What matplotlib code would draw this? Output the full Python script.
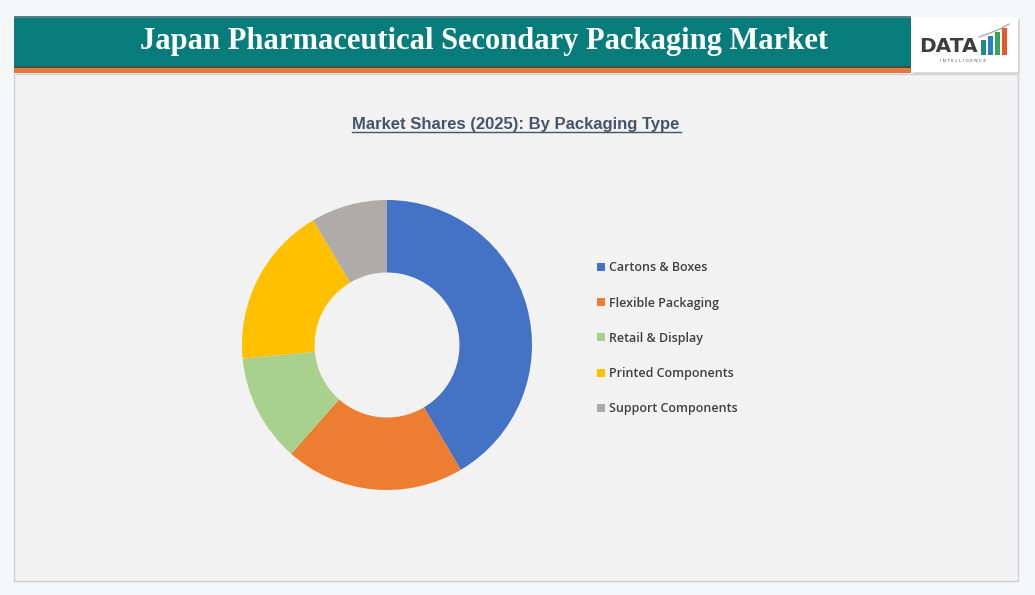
import matplotlib.pyplot as plt
from matplotlib.patches import Rectangle

# donnees
segments = ["Cartons & Boxes", "Flexible Packaging", "Retail & Display",
            "Printed Components", "Support Components"]
shares = [41.5, 20.0, 12.0, 18.0, 8.5]
colors = ["#4472c4", "#ed7d31", "#a9d18e", "#ffc000", "#afabab"]

title = "Japan Pharmaceutical Secondary Packaging Market"
subtitle = "Market Shares (2025): By Packaging Type"

W, H = 1035, 595
fig = plt.figure(figsize=(W / 100, H / 100), dpi=100)
fig.patch.set_facecolor("#f5f6f8")

# axe de fond en pixels (y vers le bas)
bg = fig.add_axes([0, 0, 1, 1])
bg.set_xlim(0, W)
bg.set_ylim(H, 0)
bg.axis("off")

# panneau principal
bg.add_patch(Rectangle((14, 74), 1004, 507, facecolor="#f2f2f2",
                       edgecolor="#d0d0d0", linewidth=1))

# bandeau titre
bg.add_patch(Rectangle((14, 17), 897, 49, facecolor="#087b7b",
                       edgecolor="none"))
bg.add_patch(Rectangle((14, 16), 897, 1.5, facecolor="#5a7f86", edgecolor="none"))
bg.add_patch(Rectangle((14, 66), 897, 1.5, facecolor="#4a4a4a", edgecolor="none"))
bg.add_patch(Rectangle((14, 67.5), 897, 5, facecolor="#e07b39", edgecolor="none"))
bg.text(484, 41.5, title, color="white", fontsize=22, fontweight="bold",
        family="Liberation Serif", ha="center", va="center")

# logo
bg.add_patch(Rectangle((913, 19), 107, 55, facecolor="#d8d8d8", edgecolor="none"))
bg.add_patch(Rectangle((911, 17), 107, 55, facecolor="white", edgecolor="none"))
bg.text(948, 46, "DATA", color="#3d3d3d", fontsize=14.5, fontweight="heavy",
        family="DejaVu Sans", ha="center", va="center")
bar_cols = ["#1f8a8a", "#2a7fc0", "#3aa655", "#e8562a"]
bar_tops = [40, 36, 32, 28]
for i, (c, t) in enumerate(zip(bar_cols, bar_tops)):
    bg.add_patch(Rectangle((981 + i * 7, t), 5, 55 - t, facecolor=c, edgecolor="none"))
bg.plot([979, 990, 1000, 1009], [37, 33, 29, 24], color="#9a9a9a", lw=0.8)
bg.text(963, 61, "I N T E L L I G E N C E", color="#555555", fontsize=3.2,
        ha="center", va="center")

# sous-titre souligne
bg.text(516, 124, subtitle, color="#44546a", fontsize=12, fontweight="bold",
        family="Liberation Sans", ha="center", va="center")
bg.plot([352, 681], [132, 132], color="#44546a", lw=1)

# donut
cx, cy, r = 387, 345, 145
ax = fig.add_axes([(cx - r) / W, 1 - (cy + r) / H, 2 * r / W, 2 * r / H])
ax.set_facecolor("none")
wedges, _ = ax.pie(shares, colors=colors, startangle=90, counterclock=False,
                   radius=1, wedgeprops=dict(width=0.5, edgecolor="none"))
ax.set_xlim(-1, 1)
ax.set_ylim(-1, 1)
ax.set_aspect("equal")
ax.axis("off")

leg = fig.legend(wedges, segments, loc="upper left",
                 bbox_to_anchor=(586 / W, 1 - 250 / H),
                 frameon=False, handlelength=0.62, handleheight=0.62,
                 handletextpad=0.3, labelspacing=1.78,
                 prop=dict(family="Open Sans", size=9, weight="semibold"))
for t in leg.get_texts():
    t.set_color("#404040")

plt.savefig("out.png", dpi=100, facecolor=fig.get_facecolor())
